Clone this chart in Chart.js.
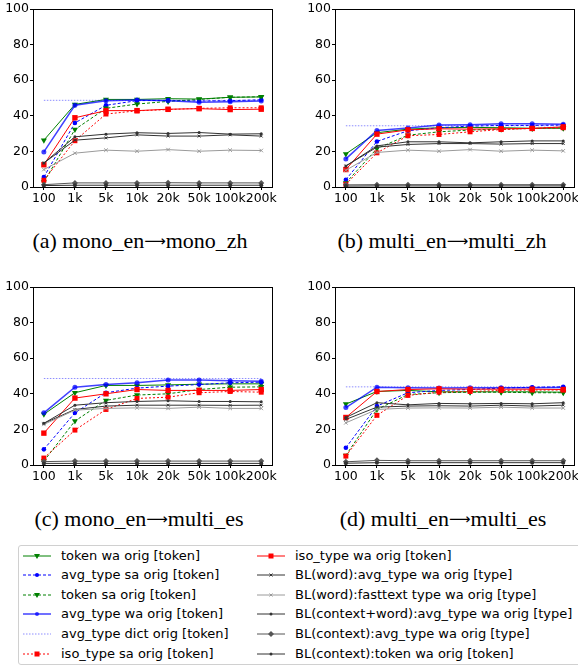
<!DOCTYPE html>
<html>
<head>
<meta charset="utf-8">
<script src="https://cdn.jsdelivr.net/npm/chart.js@4.4.0/dist/chart.umd.min.js"></script>
<style>
  body { margin: 0; background: #fff; width: 578px; height: 666px; overflow: hidden; position: relative; font-family: "DejaVu Sans"; }
  canvas { position: absolute; }
  .cap { position: absolute; width: 300px; text-align: center; font-family: "Liberation Serif"; font-size: 22px; white-space: nowrap; color: #000; }
  .cap .arr { font-family: "DejaVu Sans"; font-size: 15px; position: relative; top: -2px; }
  #legend { position: absolute; left: 18px; top: 545px; width: 620px; height: 120px; border: 1px solid #d0d0d0; border-radius: 3px; box-sizing: border-box; }
  .item { position: absolute; height: 20px; font-size: 13px; line-height: 20px; white-space: nowrap; color: #000; }
  .item svg { position: absolute; left: 0; top: 4px; }
  .item span { position: absolute; left: 38px; top: 0; }
</style>
</head>
<body>
<canvas id="pa" width="278" height="207" style="left:0;top:0"></canvas>
<canvas id="pb" width="278" height="207" style="left:302px;top:0"></canvas>
<canvas id="pc" width="278" height="207" style="left:0;top:278px"></canvas>
<canvas id="pd" width="278" height="207" style="left:302px;top:278px"></canvas>
<div class="cap" style="left:-10px;top:228px">(a) mono_en<span class="arr">⟶</span>mono_zh</div>
<div class="cap" style="left:292px;top:228px">(b) multi_en<span class="arr">⟶</span>multi_zh</div>
<div class="cap" style="left:-11px;top:506px">(c) mono_en<span class="arr">⟶</span>multi_es</div>
<div class="cap" style="left:293px;top:506px">(d) multi_en<span class="arr">⟶</span>multi_es</div>
<div id="legend"></div>
<script>
'use strict';

var xLabels = ['100', '1k', '5k', '10k', '20k', '50k', '100k', '200k'];

var seriesNames = [
  'token wa orig [token]',
  'avg_type sa orig [token]',
  'token sa orig [token]',
  'avg_type wa orig [token]',
  'avg_type dict orig [token]',
  'iso_type sa orig [token]',
  'iso_type wa orig [token]',
  'BL(word):avg_type wa orig [type]',
  'BL(word):fasttext type wa orig [type]',
  'BL(context+word):avg_type wa orig [type]',
  'BL(context):avg_type wa orig [type]',
  'BL(context):token wa orig [token]'
];

// (a) mono_en -> mono_zh
var aTokenWa    = [26.3, 46.4, 49.2, 49.2, 49.6, 49.4, 50.4, 50.6];
var aAvgSa      = [5.6, 36.0, 45.9, 48.5, 48.7, 48.3, 48.5, 49.0];
var aTokenSa    = [2.8, 32.3, 44.2, 46.6, 48.1, 49.2, 50.4, 50.7];
var aAvgWa      = [19.7, 45.9, 48.5, 48.9, 48.5, 47.6, 47.9, 48.3];
var aAvgDict    = [48.7, 48.7, 48.7, 48.7, 48.7, 48.7, 48.7, 48.7];
var aIsoSa      = [3.8, 26.0, 41.0, 42.8, 43.5, 44.2, 44.5, 44.5];
var aIsoWa      = [12.5, 38.9, 42.9, 42.9, 43.7, 44.0, 43.5, 43.7];
var aBlWordAvg  = [13.5, 26.3, 27.6, 29.3, 28.6, 28.6, 29.3, 28.6];
var aBlFasttext = [9.8, 19.0, 20.7, 20.1, 21.0, 20.1, 20.7, 20.5];
var aBlCtxWord  = [13.5, 28.2, 29.7, 30.5, 30.1, 30.6, 29.7, 29.9];
var aBlCtxAvg   = [1.3, 2.3, 2.3, 2.3, 2.4, 2.3, 2.3, 2.3];
var aBlCtxTok   = [0.8, 1.0, 1.0, 1.0, 1.0, 1.0, 1.0, 1.0];

// (b) multi_en -> multi_zh
var bTokenWa    = [18.6, 30.5, 32.5, 33.3, 33.5, 33.3, 33.0, 33.0];
var bAvgSa      = [4.1, 25.6, 31.6, 33.3, 34.2, 34.6, 34.6, 34.8];
var bTokenSa    = [2.3, 21.6, 29.1, 31.0, 32.0, 32.5, 32.9, 33.3];
var bAvgWa      = [15.8, 31.8, 33.1, 34.8, 35.0, 35.5, 35.5, 35.3];
var bAvgDict    = [34.4, 34.4, 34.4, 34.4, 34.4, 34.4, 34.4, 34.4];
var bIsoSa      = [1.5, 19.2, 28.8, 29.5, 31.0, 32.3, 32.9, 33.3];
var bIsoWa      = [9.8, 29.7, 32.1, 32.7, 32.5, 32.7, 32.9, 33.8];
var bBlWordAvg  = [11.8, 22.4, 23.9, 24.4, 24.4, 24.1, 24.4, 24.4];
var bBlFasttext = [9.4, 19.4, 20.7, 20.1, 21.0, 20.1, 20.7, 20.3];
var bBlCtxWord  = [11.8, 23.1, 25.4, 25.4, 24.8, 25.4, 25.9, 25.9];
var bBlCtxAvg   = [1.2, 1.3, 1.3, 1.3, 1.3, 1.3, 1.3, 1.3];
var bBlCtxTok   = [0.5, 0.6, 0.6, 0.6, 0.6, 0.6, 0.6, 0.6];

// (c) mono_en -> multi_es
var cTokenWa    = [28.5, 40.6, 44.7, 44.7, 45.0, 45.4, 45.6, 45.6];
var cAvgSa      = [8.8, 29.3, 40.6, 43.2, 44.3, 45.2, 46.2, 46.5];
var cTokenSa    = [2.2, 24.7, 36.3, 39.3, 40.0, 42.4, 43.7, 43.9];
var cAvgWa      = [29.3, 43.7, 45.2, 46.2, 47.7, 47.7, 47.3, 47.1];
var cAvgDict    = [48.6, 48.6, 48.6, 48.6, 48.6, 48.6, 48.6, 48.6];
var cIsoSa      = [3.9, 19.6, 31.2, 37.4, 38.1, 40.6, 41.3, 40.9];
var cIsoWa      = [17.9, 37.6, 40.0, 42.4, 41.9, 41.9, 41.9, 42.4];
var cBlWordAvg  = [23.4, 31.2, 33.1, 33.6, 33.6, 33.6, 33.5, 33.6];
var cBlFasttext = [22.8, 30.8, 31.8, 32.1, 31.8, 32.5, 31.8, 31.8];
var cBlCtxWord  = [23.4, 33.6, 35.0, 35.7, 36.1, 35.7, 35.7, 35.5];
var cBlCtxAvg   = [1.9, 2.2, 2.2, 2.2, 2.2, 2.2, 2.2, 2.2];
var cBlCtxTok   = [0.9, 0.9, 0.9, 0.9, 0.9, 0.9, 0.9, 0.9];

// (d) multi_en -> multi_es
var dTokenWa    = [34.2, 41.3, 41.9, 41.1, 41.1, 41.1, 41.1, 40.9];
var dAvgSa      = [9.7, 33.1, 40.6, 41.9, 42.4, 43.2, 43.7, 43.9];
var dTokenSa    = [5.4, 31.2, 39.6, 40.6, 40.9, 40.9, 40.6, 40.6];
var dAvgWa      = [32.3, 43.7, 43.4, 43.2, 43.4, 43.4, 43.4, 43.6];
var dAvgDict    = [43.9, 43.9, 43.9, 43.9, 43.9, 43.9, 43.9, 43.9];
var dIsoSa      = [5.0, 27.9, 39.1, 40.9, 41.3, 41.9, 42.1, 42.1];
var dIsoWa      = [26.7, 41.3, 42.4, 42.8, 42.6, 42.6, 42.6, 42.4];
var dBlWordAvg  = [25.6, 32.5, 33.1, 33.3, 33.1, 33.6, 33.1, 33.6];
var dBlFasttext = [23.7, 31.2, 32.0, 32.1, 32.0, 32.5, 32.0, 32.0];
var dBlCtxWord  = [26.7, 35.0, 33.8, 34.6, 34.4, 34.6, 34.4, 35.0];
var dBlCtxAvg   = [1.8, 2.6, 2.4, 2.4, 2.4, 2.4, 2.4, 2.4];
var dBlCtxTok   = [1.0, 1.3, 1.3, 1.3, 1.3, 1.3, 1.3, 1.3];

// line / marker look, same order as seriesNames
var seriesStyle = [
  { color: '#008000', width: 1, dash: [], marker: 'tri', r: 3.5 },
  { color: '#0000ff', width: 1, dash: [3, 2], marker: 'circle', r: 2.3 },
  { color: '#008000', width: 1, dash: [3, 2], marker: 'tri', r: 3.5 },
  { color: 'rgba(0,0,255,0.75)', width: 1.5, dash: [], marker: 'circle', r: 2.5 },
  { color: 'rgba(0,0,255,0.45)', width: 1, dash: [1.5, 1.5], marker: null, r: 0 },
  { color: '#ff0000', width: 1, dash: [2, 2], marker: 'rect', r: 3.5 },
  { color: '#ff0000', width: 1, dash: [], marker: 'rect', r: 3.8 },
  { color: '#333333', width: 1, dash: [], marker: 'cross', r: 2 },
  { color: '#9a9a9a', width: 1, dash: [], marker: 'cross', r: 2.5 },
  { color: '#333333', width: 1, dash: [], marker: 'dot', r: 1.5 },
  { color: '#555555', width: 1, dash: [], marker: 'diamond', r: 3 },
  { color: '#333333', width: 1, dash: [], marker: 'dot', r: 2 }
];

var pointStyles = { tri: 'triangle', circle: 'circle', rect: 'rect', cross: 'crossRot', dot: 'circle', diamond: 'rectRot' };

Chart.defaults.font.family = 'DejaVu Sans';
Chart.defaults.font.size = 12.5;
Chart.defaults.color = '#000';

var frame = {
  id: 'frame',
  afterDraw: function (chart) {
    var a = chart.chartArea, c = chart.ctx;
    c.save();
    c.strokeStyle = '#000';
    c.lineWidth = 1;
    c.strokeRect(Math.round(a.left) + 0.5, Math.round(a.top) + 0.5, Math.round(a.right - a.left), Math.round(a.bottom - a.top));
    c.restore();
  }
};

function makePanel(id, lists) {
  var n = lists.length;
  var datasets = lists.map(function (vals, i) {
    var s = seriesStyle[i];
    return {
      label: seriesNames[i],
      data: vals.map(function (v, k) { return { x: k, y: v }; }),
      borderColor: s.color,
      backgroundColor: s.color,
      borderWidth: s.width,
      borderDash: s.dash,
      pointStyle: s.marker ? pointStyles[s.marker] : false,
      pointRotation: s.marker === 'tri' ? 180 : 0,
      pointRadius: s.r,
      pointBorderWidth: s.marker === 'cross' ? 1 : 0,
      pointBorderColor: s.color,
      pointBackgroundColor: s.color,
      tension: 0,
      order: n - i
    };
  });
  new Chart(document.getElementById(id), {
    type: 'line',
    data: { datasets: datasets },
    options: {
      responsive: false,
      animation: false,
      events: [],
      layout: { padding: { top: 9, right: 5, left: 0, bottom: 0 } },
      plugins: { legend: { display: false }, tooltip: { enabled: false } },
      scales: {
        x: {
          type: 'linear',
          min: -0.35,
          max: 7.35,
          afterBuildTicks: function (s) { s.ticks = xLabels.map(function (_, i) { return { value: i }; }); },
          afterFit: function (s) { s.height = 20; },
          ticks: {
            autoSkip: false, maxRotation: 0, padding: 1,
            callback: function (v) { return xLabels[v]; }
          },
          grid: { drawOnChartArea: false, drawTicks: true, tickLength: 3, color: '#000' },
          border: { display: false }
        },
        y: {
          min: 0,
          max: 100,
          afterFit: function (s) { s.width = 33; },
          ticks: { stepSize: 20, padding: 1 },
          grid: { drawOnChartArea: false, drawTicks: true, tickLength: 3, color: '#000' },
          border: { display: false }
        }
      }
    },
    plugins: [frame]
  });
}

makePanel('pa', [aTokenWa, aAvgSa, aTokenSa, aAvgWa, aAvgDict, aIsoSa, aIsoWa, aBlWordAvg, aBlFasttext, aBlCtxWord, aBlCtxAvg, aBlCtxTok]);
makePanel('pb', [bTokenWa, bAvgSa, bTokenSa, bAvgWa, bAvgDict, bIsoSa, bIsoWa, bBlWordAvg, bBlFasttext, bBlCtxWord, bBlCtxAvg, bBlCtxTok]);
makePanel('pc', [cTokenWa, cAvgSa, cTokenSa, cAvgWa, cAvgDict, cIsoSa, cIsoWa, cBlWordAvg, cBlFasttext, cBlCtxWord, cBlCtxAvg, cBlCtxTok]);
makePanel('pd', [dTokenWa, dAvgSa, dTokenSa, dAvgWa, dAvgDict, dIsoSa, dIsoWa, dBlWordAvg, dBlFasttext, dBlCtxWord, dBlCtxAvg, dBlCtxTok]);

// legend, two columns of six
function markerSvg(s) {
  var c = s.color;
  if (s.marker === 'tri') return '<polygon points="11,4 17,4 14,9" fill="' + c + '"/>';
  if (s.marker === 'circle') return '<circle cx="14" cy="6" r="2" fill="' + c + '"/>';
  if (s.marker === 'rect') return '<rect x="11.5" y="3.5" width="5" height="5" fill="' + c + '"/>';
  if (s.marker === 'cross') return '<path d="M12.5 4.5L15.5 7.5M15.5 4.5L12.5 7.5" stroke="' + c + '" stroke-width="1"/>';
  if (s.marker === 'dot') return '<circle cx="14" cy="6" r="1.5" fill="' + c + '"/>';
  if (s.marker === 'diamond') return '<polygon points="14,3 17,6 14,9 11,6" fill="' + c + '"/>';
  return '';
}

var legend = document.getElementById('legend');
seriesNames.forEach(function (name, i) {
  var s = seriesStyle[i];
  var col = i < 6 ? 0 : 1;
  var row = i % 6;
  var div = document.createElement('div');
  div.className = 'item';
  div.style.left = (col === 0 ? 4 : 238) + 'px';
  div.style.top = (row * 19.6 - 0.5) + 'px';
  div.innerHTML = '<svg width="28" height="12"><line x1="0" y1="6" x2="28" y2="6" stroke="' + s.color +
    '" stroke-width="' + s.width + '" stroke-dasharray="' + s.dash.join(',') + '"/>' + markerSvg(s) +
    '</svg><span>' + name + '</span>';
  legend.appendChild(div);
});
</script>
</body>
</html>
